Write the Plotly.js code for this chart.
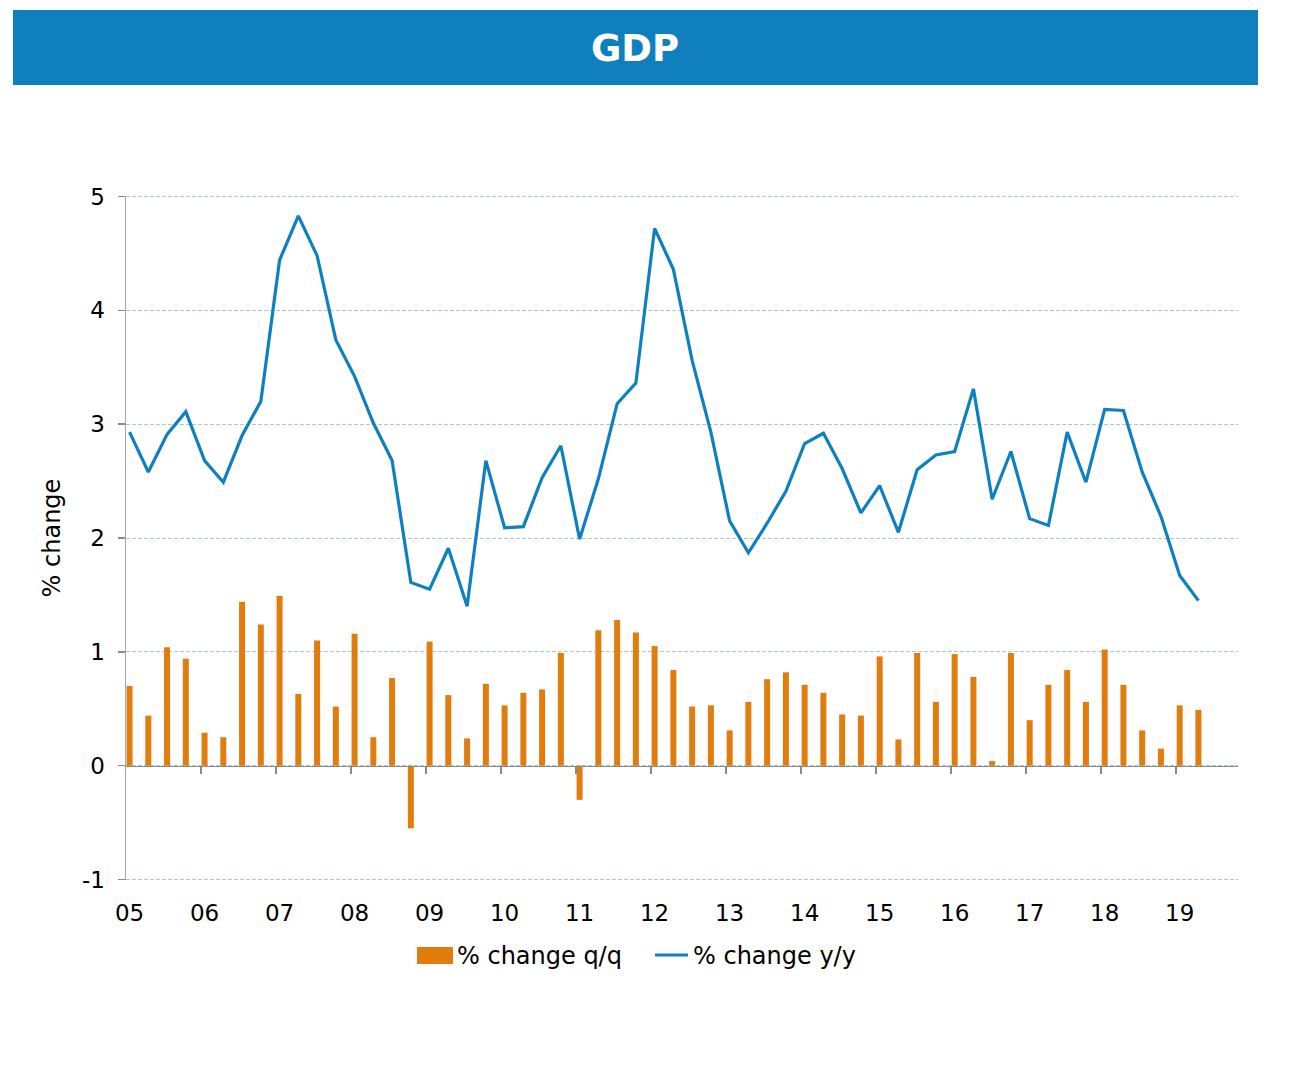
<!DOCTYPE html>
<html>
<head>
<meta charset="utf-8">
<script src="https://cdn.plot.ly/plotly-3.0.1.min.js"></script>
<style>
html,body{margin:0;padding:0;background:#fff;}
#chart{width:1304px;height:1084px;}
</style>
</head>
<body>
<div id="chart"></div>
<script>
// Quarterly data, 2005 Q1 .. 2019 Q2
var quarters = ["2005Q1","2005Q2","2005Q3","2005Q4","2006Q1","2006Q2","2006Q3","2006Q4",
"2007Q1","2007Q2","2007Q3","2007Q4","2008Q1","2008Q2","2008Q3","2008Q4",
"2009Q1","2009Q2","2009Q3","2009Q4","2010Q1","2010Q2","2010Q3","2010Q4",
"2011Q1","2011Q2","2011Q3","2011Q4","2012Q1","2012Q2","2012Q3","2012Q4",
"2013Q1","2013Q2","2013Q3","2013Q4","2014Q1","2014Q2","2014Q3","2014Q4",
"2015Q1","2015Q2","2015Q3","2015Q4","2016Q1","2016Q2","2016Q3","2016Q4",
"2017Q1","2017Q2","2017Q3","2017Q4","2018Q1","2018Q2","2018Q3","2018Q4",
"2019Q1","2019Q2"];

var qoq = [0.70,0.44,1.04,0.94,0.29,0.25,1.44,1.24,
1.49,0.63,1.10,0.52,1.16,0.25,0.77,-0.55,
1.09,0.62,0.24,0.72,0.53,0.64,0.67,0.99,
-0.30,1.19,1.28,1.17,1.05,0.84,0.52,0.53,
0.31,0.56,0.76,0.82,0.71,0.64,0.45,0.44,
0.96,0.23,0.99,0.56,0.98,0.78,0.04,0.99,
0.40,0.71,0.84,0.56,1.02,0.71,0.31,0.15,
0.53,0.49];

var yoy = [2.93,2.58,2.91,3.11,2.68,2.49,2.90,3.20,
4.44,4.83,4.48,3.74,3.42,3.01,2.68,1.61,
1.55,1.91,1.40,2.68,2.09,2.10,2.53,2.81,
1.99,2.52,3.18,3.36,4.72,4.36,3.56,2.93,
2.15,1.87,2.13,2.41,2.83,2.92,2.61,2.22,
2.46,2.05,2.60,2.73,2.76,3.31,2.34,2.76,
2.17,2.11,2.93,2.49,3.13,3.12,2.58,2.19,
1.67,1.45];

var seriesNames = ["% change q/q", "% change y/y"];
var yearLabels = ["05","06","07","08","09","10","11","12","13","14","15","16","17","18","19"];
var yTicks = [-1,0,1,2,3,4,5];

var idx = quarters.map(function(q,i){return i;});
var labelPos = yearLabels.map(function(l,k){return 4*k;});
var tickPos = yearLabels.slice(1).map(function(l,k){return 4*(k+1)-0.19;});

var L = 126, R = 66, T = 196, B = 204;
var W = 1304 - L - R, H = 1084 - T - B;
function px(x){return (x - L)/W;}
function py(y){return (1084 - B - y)/H;}

var BAR = '#E17C0F', LINE = '#0F80BF', GRID = '#b0c6d0';
var yr = [-1.004, 5.004];
var zeroPos = (0 - yr[0])/(yr[1]-yr[0]);

var traces = [
  {type:'bar', x: idx, y: qoq, name:seriesNames[0], width:0.32,
   marker:{color:BAR, line:{width:0}}, xaxis:'x', yaxis:'y', showlegend:false},
  {type:'scatter', mode:'lines', x: idx, y: yoy, name:seriesNames[1],
   line:{color:LINE, width:3.2}, xaxis:'x2', yaxis:'y', showlegend:false}
];

var edgeGrid = [yTicks[0], yTicks[yTicks.length-1]].map(function(v){
  return {type:'line', xref:'paper', yref:'y', x0:0, x1:1, y0:v, y1:v,
          line:{color:GRID, width:1, dash:'4px,2px'}, layer:'below'};
});

var font = 'DejaVu Sans, Verdana, sans-serif';
var layout = {
  width:1304, height:1084,
  margin:{l:L, r:R, t:T, b:B},
  paper_bgcolor:'#ffffff', plot_bgcolor:'#ffffff',
  font:{family:font, color:'#000', size:23},
  showlegend:false,
  title:{text:'<b>GDP</b>', font:{family:font, size:37, color:'#ffffff'},
         xref:'container', yref:'container', x:635/1304, y:1-48/1084,
         xanchor:'center', yanchor:'middle'},
  shapes:[
    {type:'rect', xref:'paper', yref:'paper', x0:px(13), x1:px(1258),
     y0:py(85), y1:py(10), fillcolor:'#0F7FBD', line:{width:0}, layer:'below'},
    {type:'rect', xref:'paper', yref:'paper', x0:px(417), x1:px(453),
     y0:py(964), y1:py(947), fillcolor:BAR, line:{width:0}},
    {type:'line', xref:'paper', yref:'paper', x0:px(655), x1:px(688),
     y0:py(955), y1:py(955), line:{color:LINE, width:3}}
  ].concat(edgeGrid),
  annotations:[
    {xref:'paper', yref:'paper', x:px(455), y:py(956), xanchor:'left', yanchor:'middle',
     text:seriesNames[0], showarrow:false, font:{family:font, size:24, color:'#000'}},
    {xref:'paper', yref:'paper', x:px(691), y:py(956), xanchor:'left', yanchor:'middle',
     text:seriesNames[1], showarrow:false, font:{family:font, size:24, color:'#000'}}
  ],
  xaxis:{range:[-0.19, 59.11], anchor:'y', side:'bottom',
         tickvals:labelPos, ticktext:yearLabels, ticks:'', showline:false,
         showgrid:false, zeroline:false, tickfont:{size:23, family:font},
         ticklabelstandoff:17, fixedrange:true},
  xaxis2:{range:[-0.19, 59.11], overlaying:'x', anchor:'free', position:zeroPos,
          tickvals:tickPos, ticks:'outside', ticklen:7,
          tickcolor:'#888888', tickwidth:1.5, showticklabels:false,
          showgrid:false, zeroline:false, showline:true, linecolor:'#888888', linewidth:1.5},
  yaxis:{range:yr, tickvals:yTicks, ticktext:yTicks.map(String),
         ticks:'outside', ticklen:7, tickcolor:'#888888', tickwidth:1.5,
         showline:true, linecolor:'#a6a6a6', linewidth:1.5,
         showgrid:true, gridcolor:GRID, griddash:'4px,2px', gridwidth:1,
         zeroline:false, tickfont:{size:23, family:font}, ticklabelstandoff:8,
         title:{text:'% change', font:{size:24, family:font}, standoff:14}}
};

Plotly.newPlot('chart', traces, layout, {displayModeBar:false, staticPlot:true});
</script>
</body>
</html>
